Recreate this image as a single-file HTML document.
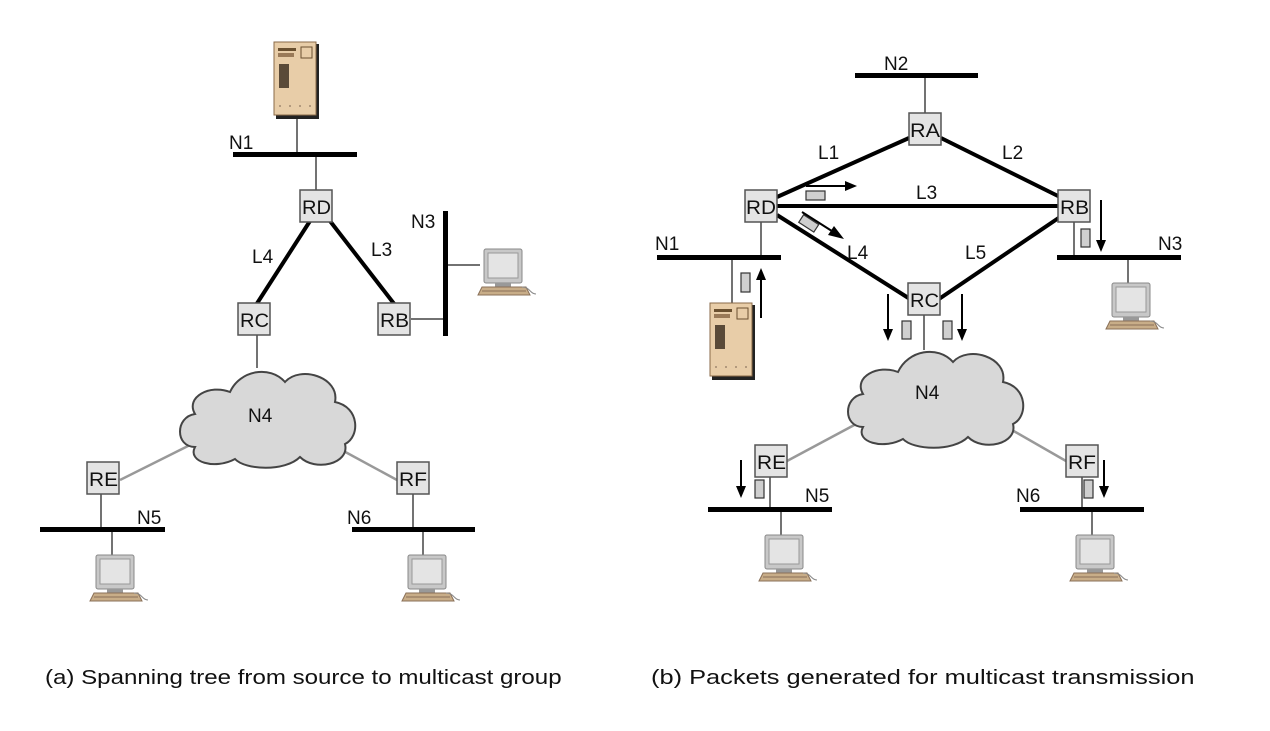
<!DOCTYPE html>
<html><head><meta charset="utf-8"><style>
body{margin:0;background:#fff}
svg{display:block}
text{font-family:"Liberation Sans",sans-serif;fill:#111}
</style></head><body>
<svg width="1270" height="731" viewBox="0 0 1270 731" xmlns="http://www.w3.org/2000/svg">
<defs>
<g id="srv">
<rect x="2" y="2" width="43" height="75" fill="#222"/>
<rect x="0" y="0" width="42" height="73" fill="#e8cda8" stroke="#8a6a48" stroke-width="1"/>
<rect x="4" y="6" width="18" height="3" fill="#6a5030"/>
<rect x="4" y="11" width="16" height="4" fill="#9a7a58"/>
<rect x="27" y="5" width="11" height="11" fill="none" stroke="#6a5030"/>
<rect x="5" y="22" width="10" height="24" fill="#5a4a38"/>
<g fill="#a08870"><circle cx="6" cy="64" r="1"/><circle cx="16" cy="64" r="1"/><circle cx="26" cy="64" r="1"/><circle cx="36" cy="64" r="1"/></g>
</g>
<g id="pc">
<rect x="8" y="0" width="38" height="34" rx="2" fill="#c8c8c8" stroke="#888"/>
<rect x="12" y="4" width="30" height="25" fill="#e4e4e4" stroke="#999"/>
<rect x="19" y="34" width="16" height="4" fill="#999"/>
<path d="M2,46 L6,38 L50,38 L54,46 Z" fill="#c8ad88" stroke="#8a7058"/>
<line x1="6" y1="42" x2="50" y2="42" stroke="#8a7058"/>
<path d="M46,38 C54,38 54,45 60,45" fill="none" stroke="#888"/>
</g>
<path id="cloud" d="M20,85 C0,85 0,55 20,52 C10,35 35,22 55,30 C65,8 95,3 110,20 C125,3 165,15 160,40 C185,45 185,75 170,82 C175,102 140,110 125,95 C110,110 70,108 60,97 C40,108 12,100 20,85 Z" fill="#d8d8d8" stroke="#444" stroke-width="2"/>
</defs>

<!-- LEFT -->
<g stroke="#444" stroke-width="1.5" fill="none">
<line x1="297" y1="117" x2="297" y2="154"/>
<line x1="316" y1="154" x2="316" y2="190"/>
<line x1="411" y1="319" x2="445" y2="319"/>
<line x1="448" y1="265" x2="480" y2="265"/>
<line x1="257" y1="335" x2="257" y2="368"/>
<line x1="192" y1="444" x2="120" y2="480" stroke="#999" stroke-width="2.5"/>
<line x1="338" y1="448" x2="397" y2="480" stroke="#999" stroke-width="2.5"/>
<line x1="101" y1="494" x2="101" y2="529"/>
<line x1="112" y1="529" x2="112" y2="556"/>
<line x1="413" y1="494" x2="413" y2="529"/>
<line x1="423" y1="529" x2="423" y2="556"/>
</g>
<g stroke="#000" stroke-width="4">
<line x1="310" y1="221" x2="256" y2="305"/>
<line x1="330" y1="221" x2="395" y2="305"/>
</g>
<g fill="#000">
<rect x="233" y="152" width="124" height="5"/>
<rect x="443" y="211" width="5" height="125"/>
<rect x="40" y="527" width="125" height="5"/>
<rect x="352" y="527" width="123" height="5"/>
</g>
<use href="#srv" x="274" y="42"/>
<use href="#pc" x="476" y="249"/>
<use href="#pc" x="88" y="555"/>
<use href="#pc" x="400" y="555"/>
<use href="#cloud" x="175" y="362"/>
<g fill="#e4e4e4" stroke="#555" stroke-width="1.5">
<rect x="300" y="190" width="32" height="32"/>
<rect x="238" y="303" width="32" height="32"/>
<rect x="378" y="303" width="32" height="32"/>
<rect x="87" y="462" width="32" height="32"/>
<rect x="397" y="462" width="32" height="32"/>
</g>
<g font-size="19">
<text x="302" y="214" textLength="29" lengthAdjust="spacingAndGlyphs">RD</text><text x="240" y="327" textLength="29" lengthAdjust="spacingAndGlyphs">RC</text><text x="380" y="327" textLength="29" lengthAdjust="spacingAndGlyphs">RB</text>
<text x="89" y="486" textLength="29" lengthAdjust="spacingAndGlyphs">RE</text><text x="399" y="486" textLength="28" lengthAdjust="spacingAndGlyphs">RF</text>
<text x="229" y="149">N1</text><text x="411" y="228">N3</text>
<text x="252" y="263">L4</text><text x="371" y="256">L3</text>
<text x="248" y="422">N4</text>
<text x="137" y="524">N5</text><text x="347" y="524">N6</text>
</g>
<text transform="translate(45,684) scale(1.205,1)" font-size="20">(a) Spanning tree from source to multicast group</text>

<!-- RIGHT -->
<g stroke="#444" stroke-width="1.5" fill="none">
<line x1="925" y1="75" x2="925" y2="113"/>
<line x1="761" y1="222" x2="761" y2="257"/>
<line x1="732" y1="257" x2="732" y2="303"/>
<line x1="924" y1="315" x2="924" y2="350"/>
<line x1="1074" y1="222" x2="1074" y2="257"/>
<line x1="1128" y1="257" x2="1128" y2="283"/>
<line x1="858" y1="423" x2="787" y2="461" stroke="#999" stroke-width="2.5"/>
<line x1="1005" y1="426" x2="1066" y2="461" stroke="#999" stroke-width="2.5"/>
<line x1="770" y1="477" x2="770" y2="509"/>
<line x1="781" y1="509" x2="781" y2="536"/>
<line x1="1082" y1="477" x2="1082" y2="509"/>
<line x1="1092" y1="509" x2="1092" y2="536"/>
</g>
<g stroke="#000" stroke-width="4">
<line x1="909" y1="138" x2="777" y2="197"/>
<line x1="941" y1="138" x2="1060" y2="197"/>
<line x1="777" y1="206" x2="1060" y2="206"/>
<line x1="777" y1="215" x2="910" y2="299"/>
<line x1="1060" y1="217" x2="939" y2="299"/>
</g>
<g fill="#000">
<rect x="855" y="73" width="123" height="5"/>
<rect x="657" y="255" width="124" height="5"/>
<rect x="1057" y="255" width="124" height="5"/>
<rect x="708" y="507" width="124" height="5"/>
<rect x="1020" y="507" width="124" height="5"/>
</g>
<use href="#srv" x="710" y="303"/>
<use href="#pc" x="1104" y="283"/>
<use href="#pc" x="757" y="535"/>
<use href="#pc" x="1068" y="535"/>
<use href="#cloud" x="843" y="342"/>
<g fill="#e4e4e4" stroke="#555" stroke-width="1.5">
<rect x="909" y="113" width="32" height="32"/>
<rect x="745" y="190" width="32" height="32"/>
<rect x="1058" y="190" width="32" height="32"/>
<rect x="908" y="283" width="32" height="32"/>
<rect x="755" y="445" width="32" height="32"/>
<rect x="1066" y="445" width="32" height="32"/>
</g>
<g fill="#cfcfcf" stroke="#333" stroke-width="1.2">
<rect x="806" y="191" width="19" height="9"/>
<rect x="800" y="219" width="18" height="9" transform="rotate(33 809 223)"/>
<rect x="741" y="273" width="9" height="19"/>
<rect x="902" y="321" width="9" height="18"/>
<rect x="943" y="321" width="9" height="18"/>
<rect x="1081" y="229" width="9" height="18"/>
<rect x="755" y="480" width="9" height="18"/>
<rect x="1084" y="480" width="9" height="18"/>
</g>
<g stroke="#000" stroke-width="2">
<line x1="806" y1="186" x2="846" y2="186"/>
<line x1="802" y1="212" x2="835" y2="233"/>
<line x1="761" y1="318" x2="761" y2="278"/>
<line x1="888" y1="294" x2="888" y2="330"/>
<line x1="962" y1="294" x2="962" y2="330"/>
<line x1="1101" y1="200" x2="1101" y2="242"/>
<line x1="741" y1="460" x2="741" y2="488"/>
<line x1="1104" y1="460" x2="1104" y2="488"/>
</g>
<g fill="#000">
<polygon points="857,186 845,181 845,191"/>
<polygon points="844,239 828,235 834,226"/>
<polygon points="761,268 756,280 766,280"/>
<polygon points="888,341 883,329 893,329"/>
<polygon points="962,341 957,329 967,329"/>
<polygon points="1101,252 1096,240 1106,240"/>
<polygon points="741,498 736,486 746,486"/>
<polygon points="1104,498 1099,486 1109,486"/>
</g>
<g font-size="19">
<text x="910" y="137" textLength="30" lengthAdjust="spacingAndGlyphs">RA</text><text x="746" y="214" textLength="30" lengthAdjust="spacingAndGlyphs">RD</text><text x="1060" y="214" textLength="29" lengthAdjust="spacingAndGlyphs">RB</text>
<text x="910" y="307" textLength="29" lengthAdjust="spacingAndGlyphs">RC</text><text x="757" y="469" textLength="29" lengthAdjust="spacingAndGlyphs">RE</text><text x="1068" y="469" textLength="28" lengthAdjust="spacingAndGlyphs">RF</text>
<text x="884" y="70">N2</text><text x="655" y="250">N1</text><text x="1158" y="250">N3</text>
<text x="818" y="159">L1</text><text x="1002" y="159">L2</text><text x="916" y="199">L3</text>
<text x="847" y="259">L4</text><text x="965" y="259">L5</text>
<text x="915" y="399">N4</text>
<text x="805" y="502">N5</text><text x="1016" y="502">N6</text>
</g>
<text transform="translate(651,684) scale(1.27,1)" font-size="20">(b) Packets generated for multicast transmission</text>
</svg>
</body></html>
